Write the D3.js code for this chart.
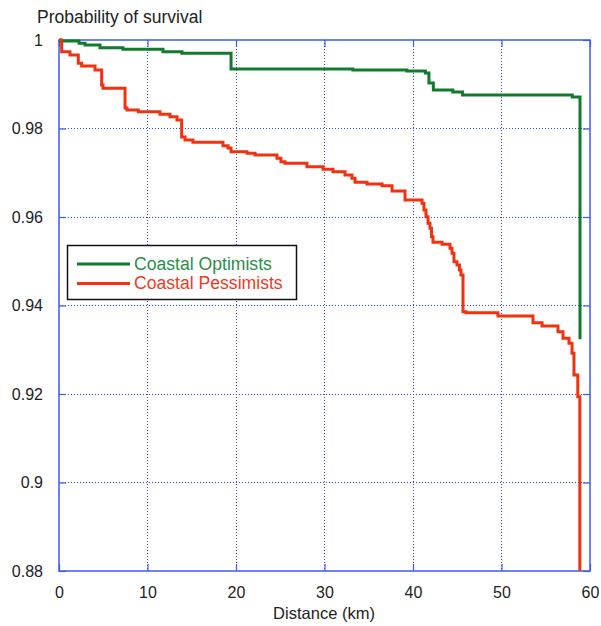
<!DOCTYPE html>
<html>
<head>
<meta charset="utf-8">
<script src="https://cdn.jsdelivr.net/npm/d3@7"></script>
<style>
  html, body { margin: 0; padding: 0; background: #fff; }
  svg { display: block; }
  text { font-family: "Liberation Sans", Arial, sans-serif; }
</style>
</head>
<body>
<div id="chart"></div>
<script>
// ---- Data ----
const seriesNames = ["Coastal Optimists", "Coastal Pessimists"];
const seriesColors = ["#127a2c", "#f0320f"];

// Coastal Optimists: distance (km) where the step occurs, survival after step
const optimistsX = [0, 0.1, 2.26, 2.94, 4.63, 7.23, 11.75, 13.9, 19.44, 33.2, 39.3, 41.4, 41.8, 42.3, 44.5, 45.6, 58.0, 58.87];
const optimistsY = [1.0, 0.99977, 0.99925, 0.99887, 0.99826, 0.9979, 0.99736, 0.997, 0.99345, 0.99322, 0.993, 0.99254, 0.99028, 0.9887, 0.98825, 0.98757, 0.98712, 0.9324];

// Coastal Pessimists
const pessimistsX = [0, 0.3, 1.24, 2.18, 2.56, 4.07, 4.82, 4.97, 7.46, 7.68, 8.96, 11.41, 12.54, 13.33, 13.86, 14.24, 15.14, 18.53, 19.1, 19.44, 21.24, 22.15, 24.63, 25.08, 25.54, 28.02, 29.83, 30.96, 32.32, 33.1, 33.45, 34.8, 36.5, 37.63, 39.1, 41.02, 41.24, 41.47, 41.7, 41.92, 42.09, 42.26, 43.28, 44.18, 44.41, 44.63, 44.97, 45.25, 45.42, 45.65, 45.99, 49.6, 53.56, 54.58, 56.38, 56.95, 57.63, 57.97, 58.19, 58.62, 58.85];
const pessimistsY = [1.0, 0.99736, 0.99661, 0.99473, 0.99412, 0.99322, 0.98983, 0.98908, 0.98463, 0.98418, 0.9838, 0.98321, 0.98267, 0.98192, 0.97808, 0.9774, 0.97688, 0.97611, 0.97559, 0.97476, 0.9744, 0.97401, 0.97327, 0.9725, 0.97214, 0.97137, 0.97078, 0.97024, 0.96949, 0.96875, 0.96784, 0.96746, 0.96707, 0.96588, 0.96384, 0.9631, 0.96158, 0.96007, 0.95858, 0.95745, 0.95555, 0.95428, 0.95383, 0.95293, 0.9518, 0.9499, 0.94915, 0.94802, 0.94689, 0.9386, 0.93837, 0.93763, 0.93611, 0.93537, 0.93408, 0.93259, 0.93146, 0.9292, 0.92429, 0.91939, 0.86];

const xTicks = [0, 10, 20, 30, 40, 50, 60];
const yTicks = [0.88, 0.9, 0.92, 0.94, 0.96, 0.98, 1];
const yTickLabels = ["0.88", "0.9", "0.92", "0.94", "0.96", "0.98", "1"];
const xLabel = "Distance (km)";
const yLabel = "Probability of survival";

(function () {
// ---- Layout ----
const W = 601, H = 626;
const pL = 59, pT = 40, pR = 590, pB = 571;
const blue = "#3b5cf2";
const gridBlue = "#2a48f0";

const svg = d3.select("#chart").append("svg")
  .attr("width", W).attr("height", H);

const x = d3.scaleLinear().domain([0, 60]).range([pL, pR]);
const y = d3.scaleLinear().domain([0.88, 1]).range([pB, pT]);

// gridlines (dotted)
const grid = svg.append("g");
grid.selectAll("line.vx").data(xTicks.slice(1, -1)).join("line")
  .attr("x1", d => x(d)).attr("x2", d => x(d))
  .attr("y1", pT).attr("y2", pB)
  .attr("stroke", gridBlue).attr("stroke-width", 1)
  .attr("stroke-dasharray", "1,2").attr("shape-rendering", "crispEdges");
grid.selectAll("line.hy").data(yTicks.slice(1, -1)).join("line")
  .attr("y1", d => y(d)).attr("y2", d => y(d))
  .attr("x1", pL).attr("x2", pR)
  .attr("stroke", gridBlue).attr("stroke-width", 1)
  .attr("stroke-dasharray", "1,2").attr("shape-rendering", "crispEdges");

// axes with inward ticks on all four sides
const tickLen = 7;
const axB = svg.append("g").attr("transform", `translate(0,${pB})`)
  .call(d3.axisBottom(x).tickValues(xTicks).tickSize(-tickLen).tickPadding(tickLen + 9).tickFormat(d3.format("d")));
const axT = svg.append("g").attr("transform", `translate(0,${pT})`)
  .call(d3.axisTop(x).tickValues(xTicks).tickSize(-tickLen).tickFormat(""));
const axL = svg.append("g").attr("transform", `translate(${pL},0)`)
  .call(d3.axisLeft(y).tickValues(yTicks).tickSize(-tickLen).tickPadding(tickLen + 9)
    .tickFormat((d, i) => yTickLabels[i]));
const axR = svg.append("g").attr("transform", `translate(${pR},0)`)
  .call(d3.axisRight(y).tickValues(yTicks).tickSize(-tickLen).tickFormat(""));

[axB, axT, axL, axR].forEach(g => {
  g.select(".domain").remove();
  g.selectAll(".tick line").attr("stroke", blue).attr("stroke-width", 1.2);
  g.selectAll(".tick text").attr("fill", "#222").style("font-size", "16px")
    .style("font-family", "'Liberation Sans', Arial, sans-serif");
});

// frame
svg.append("rect")
  .attr("x", pL).attr("y", pT)
  .attr("width", pR - pL).attr("height", pB - pT)
  .attr("fill", "none").attr("stroke", blue).attr("stroke-width", 1.5);

// clip for the curves
svg.append("clipPath").attr("id", "plotclip").append("rect")
  .attr("x", pL - 2).attr("y", pT - 2)
  .attr("width", pR - pL + 4).attr("height", pB - pT + 2);

const line = d3.line().curve(d3.curveStepAfter).x(d => x(d[0])).y(d => y(d[1]));
const seriesData = [
  d3.zip(optimistsX, optimistsY),
  d3.zip(pessimistsX, pessimistsY)
];

const curves = svg.append("g").attr("clip-path", "url(#plotclip)");
curves.selectAll("path").data(seriesData).join("path")
  .attr("d", line)
  .attr("fill", "none")
  .attr("stroke", (d, i) => seriesColors[i])
  .attr("stroke-width", 3)
  .attr("stroke-linejoin", "miter");

// axis titles
svg.append("text")
  .attr("x", 37).attr("y", 23)
  .attr("fill", "#222").style("font-size", "17.5px")
  .text(yLabel);
svg.append("text")
  .attr("x", 324).attr("y", 619)
  .attr("text-anchor", "middle")
  .attr("fill", "#222").style("font-size", "16.5px")
  .text(xLabel);

// legend
const lg = svg.append("g");
lg.append("rect")
  .attr("x", 67.5).attr("y", 245.5).attr("width", 229).attr("height", 54)
  .attr("fill", "#fff").attr("stroke", "#111").attr("stroke-width", 1.5);
const legendTextColors = ["#2f8c4a", "#ef3b24"];
seriesNames.forEach((name, i) => {
  const ly = 264 + i * 19.5;
  lg.append("line")
    .attr("x1", 77).attr("x2", 130).attr("y1", ly).attr("y2", ly)
    .attr("stroke", seriesColors[i]).attr("stroke-width", 3);
  lg.append("text")
    .attr("x", 134).attr("y", ly + 5.5)
    .attr("fill", legendTextColors[i]).style("font-size", "17.6px")
    .text(name);
});
})();
</script>
</body>
</html>
